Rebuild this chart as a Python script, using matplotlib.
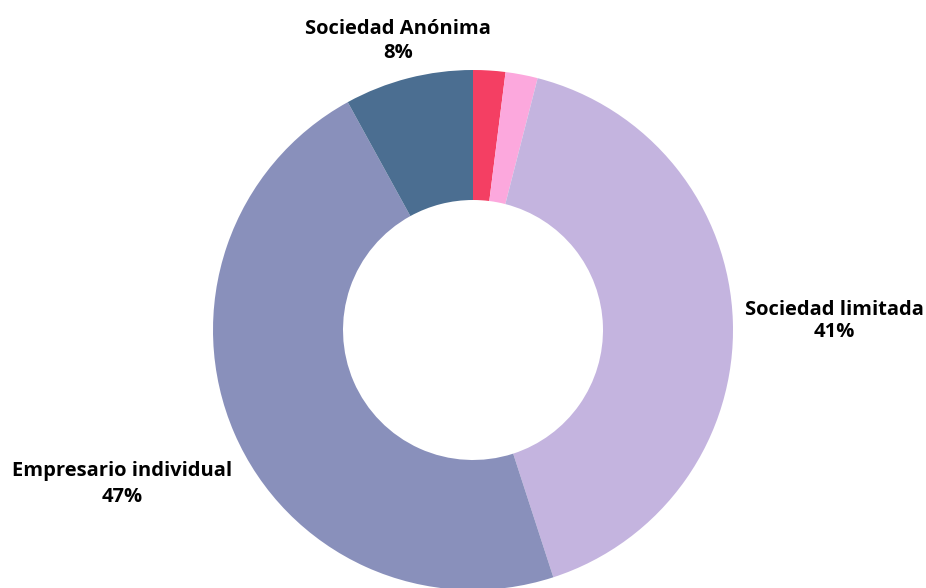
import matplotlib.pyplot as plt

# datos
categorias = ['', '', 'Sociedad limitada', 'Empresario individual', 'Sociedad Anónima']
porcentajes = [2, 2, 41, 47, 8]
colores = ['#F43F63', '#FCA8DD', '#C4B4DF', '#8990BB', '#4B6E91']

W, H = 926, 588
fig = plt.figure(figsize=(W / 100, H / 100), dpi=100)
fig.patch.set_facecolor('white')

# centro del anillo y radio en pixeles
cx, cy, r = 473, 330, 260
ax = fig.add_axes([(cx - r) / W, (H - cy - r) / H, 2 * r / W, 2 * r / H])
ax.pie(porcentajes, colors=colores, startangle=90, counterclock=False,
       radius=1, wedgeprops=dict(width=0.5, linewidth=0))
ax.set_xlim(-1, 1)
ax.set_ylim(-1, 1)
ax.set_aspect('equal')
ax.axis('off')

# etiquetas (posición en pixeles, interlineado)
etiquetas = [
    ('Sociedad Anónima\n8%', 398, 41, 1.22),
    ('Sociedad limitada\n41%', 834, 321, 1.12),
    ('Empresario individual\n47%', 122, 484, 1.36),
]
for txt, x, y, ls in etiquetas:
    fig.text(x / W, 1 - y / H, txt, ha='center', va='center',
             fontsize=14.5, fontweight='bold', family='Open Sans',
             linespacing=ls, color='black')

fig.savefig('out.png', dpi=100)
